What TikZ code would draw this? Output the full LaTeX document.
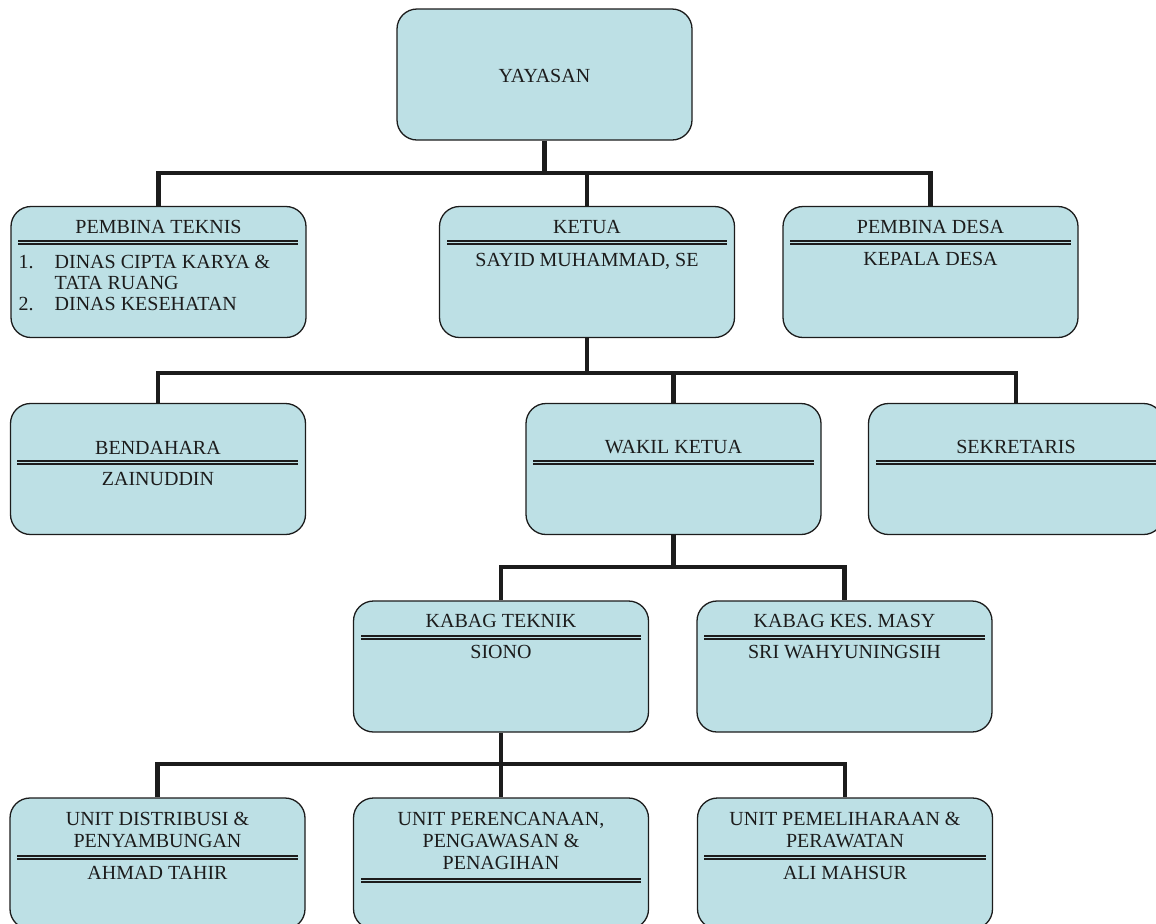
\documentclass[tikz,border=0pt]{standalone}
\usepackage{fontspec}
\setmainfont{Liberation Serif}
\definecolor{boxfill}{RGB}{189,224,229}
\definecolor{ink}{RGB}{28,28,28}
\tikzset{every picture/.style={line width=0.65pt}}
\tikzset{
  orgbox/.style={draw=ink, fill=boxfill, rounded corners=10pt, minimum width=147.5pt, minimum height=65.5pt, inner sep=0pt},
  conn/.style={draw=ink, line width=2.4pt},
  dblrule/.style={draw=ink, double=boxfill, double distance=0.5pt, line width=1pt},
  lbl/.style={font=\fontsize{10}{11}\selectfont, text=ink, inner sep=0pt, anchor=base},
  lblw/.style={lbl, anchor=base west},
}

\begin{document}
\begin{tikzpicture}[x=0.5pt,y=0.5pt,yscale=-1,xscale=1]
\useasboundingbox (0,0) rectangle (1156,923);
\clip (0,0) rectangle (1156,923);

%Shape: Rounded Rect [id:yayasan]
\node[orgbox] (yayasan) at (544.5,74.5) {};
%Shape: Rounded Rect [id:teknis]
\node[orgbox] (teknis) at (158.5,272) {};
%Shape: Rounded Rect [id:ketua]
\node[orgbox] (ketua) at (587,272) {};
%Shape: Rounded Rect [id:desa]
\node[orgbox] (desa) at (930.5,272) {};
%Shape: Rounded Rect [id:bendahara]
\node[orgbox] (bendahara) at (158,469) {};
%Shape: Rounded Rect [id:wakil]
\node[orgbox] (wakil) at (673.5,469) {};
%Shape: Rounded Rect [id:sekretaris]
\node[orgbox] (sekretaris) at (1016,469) {};
%Shape: Rounded Rect [id:kteknik]
\node[orgbox] (kteknik) at (501,666.5) {};
%Shape: Rounded Rect [id:kkes]
\node[orgbox] (kkes) at (844.5,666.5) {};
%Shape: Rounded Rect [id:distribusi]
\node[orgbox] (distribusi) at (157.5,863.5) {};
%Shape: Rounded Rect [id:perencanaan]
\node[orgbox] (perencanaan) at (501,863.5) {};
%Shape: Rounded Rect [id:pemeliharaan]
\node[orgbox] (pemeliharaan) at (845,863.5) {};

%Straight Lines [id:bus levels]
\coordinate (busA) at (0,173);
\coordinate (busB) at (0,373);
\coordinate (busC) at (0,567);
\coordinate (busD) at (0,764);

%Straight Lines [id:yayasan bus]
\draw[conn] (yayasan.south) -- (yayasan.south |- busA);
\draw[conn] (teknis.north) -- (teknis.north |- busA) -- (desa.north |- busA) -- (desa.north);
\draw[conn] (ketua.north) -- (ketua.north |- busA);
%Straight Lines [id:ketua bus]
\draw[conn] (ketua.south) -- (ketua.south |- busB);
\draw[conn] (bendahara.north) -- (bendahara.north |- busB) -- (sekretaris.north |- busB) -- (sekretaris.north);
\draw[conn] (wakil.north) -- (wakil.north |- busB);
%Straight Lines [id:wakil bus]
\draw[conn] (wakil.south) -- (wakil.south |- busC);
\draw[conn] (kteknik.north) -- (kteknik.north |- busC) -- (kkes.north |- busC) -- (kkes.north);
%Straight Lines [id:kteknik bus]
\draw[conn] (kteknik.south) -- (perencanaan.north);
\draw[conn] (distribusi.north) -- (distribusi.north |- busD) -- (pemeliharaan.north |- busD) -- (pemeliharaan.north);

%Double Rules
\draw[dblrule] (18,242) -- (298,242);
\draw[dblrule] (447,242) -- (727,242);
\draw[dblrule] (790,242) -- (1071,242);
\draw[dblrule] (17,462) -- (298,462);
\draw[dblrule] (533,462) -- (814,462);
\draw[dblrule] (876,462) -- (1160,462);
\draw[dblrule] (361,637) -- (641,637);
\draw[dblrule] (704,637) -- (985,637);
\draw[dblrule] (17,857) -- (298,857);
\draw[dblrule] (361,880) -- (641,880);
\draw[dblrule] (704,857) -- (986,857);

% Text Node
\node[lbl] (yayasanT) at (544.5,82) {YAYASAN};
% Text Node
\node[lbl] (teknisT) at (158.5,233) {PEMBINA TEKNIS};
\node[lblw] (teknisN1) at (18,268) {1.};
\node[lblw] (teknisL1) at (54,268) {DINAS CIPTA KARYA \&};
\node[lblw] (teknisL2) at (54,289) {TATA RUANG};
\node[lblw] (teknisN2) at (18,310) {2.};
\node[lblw] (teknisL3) at (54,310) {DINAS KESEHATAN};
% Text Node
\node[lbl] (ketuaT) at (587,233) {KETUA};
\node[lbl] (ketuaN) at (587,266) {SAYID MUHAMMAD, SE};
% Text Node
\node[lbl] (desaT) at (930.5,233) {PEMBINA DESA};
\node[lbl] (desaN) at (930.5,265) {KEPALA DESA};
% Text Node
\node[lbl] (bendaharaT) at (158,454) {BENDAHARA};
\node[lbl] (bendaharaN) at (158,485) {ZAINUDDIN};
% Text Node
\node[lbl] (wakilT) at (673.5,453) {WAKIL KETUA};
% Text Node
\node[lbl] (sekretarisT) at (1016,453) {SEKRETARIS};
% Text Node
\node[lbl] (kteknikT) at (501,627) {KABAG TEKNIK};
\node[lbl] (kteknikN) at (501,658) {SIONO};
% Text Node
\node[lbl] (kkesT) at (844.5,627) {KABAG KES. MASY};
\node[lbl] (kkesN) at (844.5,658) {SRI WAHYUNINGSIH};
% Text Node
\node[lbl] (distribusiT1) at (157.5,825) {UNIT DISTRIBUSI \&};
\node[lbl] (distribusiT2) at (157.5,847) {PENYAMBUNGAN};
\node[lbl] (distribusiN) at (157.5,879) {AHMAD TAHIR};
% Text Node
\node[lbl] (perencanaanT1) at (501,825) {UNIT PERENCANAAN,};
\node[lbl] (perencanaanT2) at (501,847) {PENGAWASAN \&};
\node[lbl] (perencanaanT3) at (501,869) {PENAGIHAN};
% Text Node
\node[lbl] (pemeliharaanT1) at (845,825) {UNIT PEMELIHARAAN \&};
\node[lbl] (pemeliharaanT2) at (845,847) {PERAWATAN};
\node[lbl] (pemeliharaanN) at (845,879) {ALI MAHSUR};

\end{tikzpicture}
\end{document}
